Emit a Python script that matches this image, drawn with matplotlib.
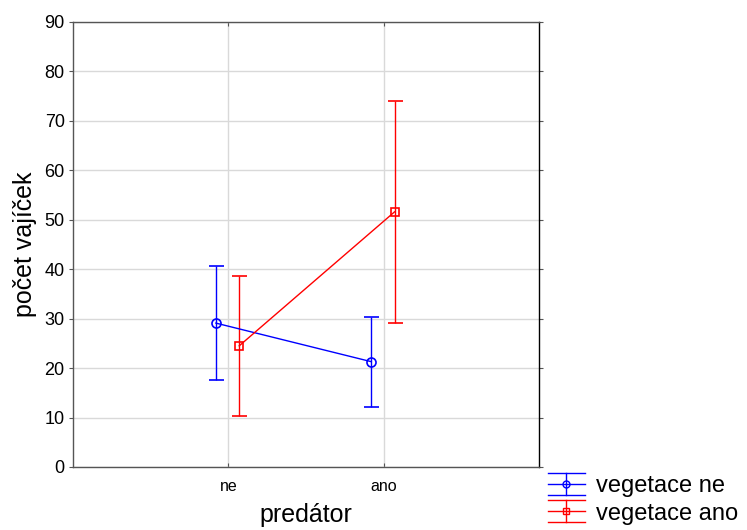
import matplotlib
matplotlib.use("Agg")
import matplotlib.pyplot as plt
from matplotlib.legend_handler import HandlerBase
from matplotlib.lines import Line2D
import numpy as np

plt.rcParams['font.family'] = ['Liberation Sans', 'DejaVu Sans']

categories = ["ne", "ano"]
series_names = ["vegetace ne", "vegetace ano"]
means_veg_ne = [29.1, 21.3]
err_veg_ne = [11.6, 9.1]
means_veg_ano = [24.5, 51.6]
err_veg_ano = [14.2, 22.4]
yticks = [0, 10, 20, 30, 40, 50, 60, 70, 80, 90]

fig = plt.figure(figsize=(7.47, 5.30), dpi=100)
ax = fig.add_axes([0.0977, 0.1189, 0.6239, 0.8396])

x = np.arange(len(categories))
offsets = [-0.08, 0.07]
colors = ["#0000ff", "#ff0000"]
markers = ["o", "s"]
msizes = [6.5, 6]
data = [(means_veg_ne, err_veg_ne), (means_veg_ano, err_veg_ano)]

for (m, e), off, c, mk, ms, name in zip(data, offsets, colors, markers, msizes, series_names):
    ax.errorbar(x + off, m, yerr=e, color=c, marker=mk, markersize=ms,
                markerfacecolor='none', markeredgecolor=c, markeredgewidth=1.2,
                lw=1.0, elinewidth=1.0, capsize=5.4, capthick=1.0, zorder=3)

ax.set_xlim(-1, 2)
ax.set_ylim(0, 90)
ax.set_xticks(x)
ax.set_xticklabels(categories, fontsize=11.5)
ax.set_yticks(yticks)
ax.tick_params(axis='y', labelsize=13, direction='out', length=3, color='#555555',
               right=True, pad=3)
ax.tick_params(axis='x', direction='in', length=3, top=True, color='#555555', pad=9)
ax.grid(True, color='#d9d9d9', lw=1.0, zorder=0)
ax.set_axisbelow(True)
for s in ['left', 'bottom', 'top']:
    ax.spines[s].set_color('#555555')
ax.spines['right'].set_color('#000000')
for s in ax.spines.values():
    s.set_linewidth(1.0)

ax.set_xlabel("predátor", fontsize=18, labelpad=6)
ax.set_ylabel("počet vajíček", fontsize=18, labelpad=5)


class ErrHandler(HandlerBase):
    def __init__(self, color, marker):
        super().__init__()
        self.color = color
        self.marker = marker

    def create_artists(self, legend, orig_handle, xdescent, ydescent, width, height, fontsize, trans):
        cy = height / 2 - ydescent
        cx = width / 2 - xdescent
        h = 11 * 0.72
        arts = []
        for yy in (cy - h, cy, cy + h):
            arts.append(Line2D([-xdescent, width - xdescent], [yy, yy], color=self.color, lw=1.0, transform=trans))
        arts.append(Line2D([cx, cx], [cy - h, cy + h], color=self.color, lw=1.0, transform=trans))
        arts.append(Line2D([cx], [cy], marker=self.marker, markersize=5, markerfacecolor='none',
                           markeredgecolor=self.color, markeredgewidth=1.0, transform=trans))
        return arts


h1 = Line2D([], [], color=colors[0])
h2 = Line2D([], [], color=colors[1])
fig.legend([h1, h2], series_names, handler_map={h1: ErrHandler(colors[0], 'o'), h2: ErrHandler(colors[1], 's')},
           loc='upper left', bbox_to_anchor=(0.733, 0.103), frameon=False, fontsize=17,
           handlelength=1.6, handletextpad=0.45, labelspacing=0.22, borderpad=0, borderaxespad=0)

fig.savefig("out.png", dpi=100)
